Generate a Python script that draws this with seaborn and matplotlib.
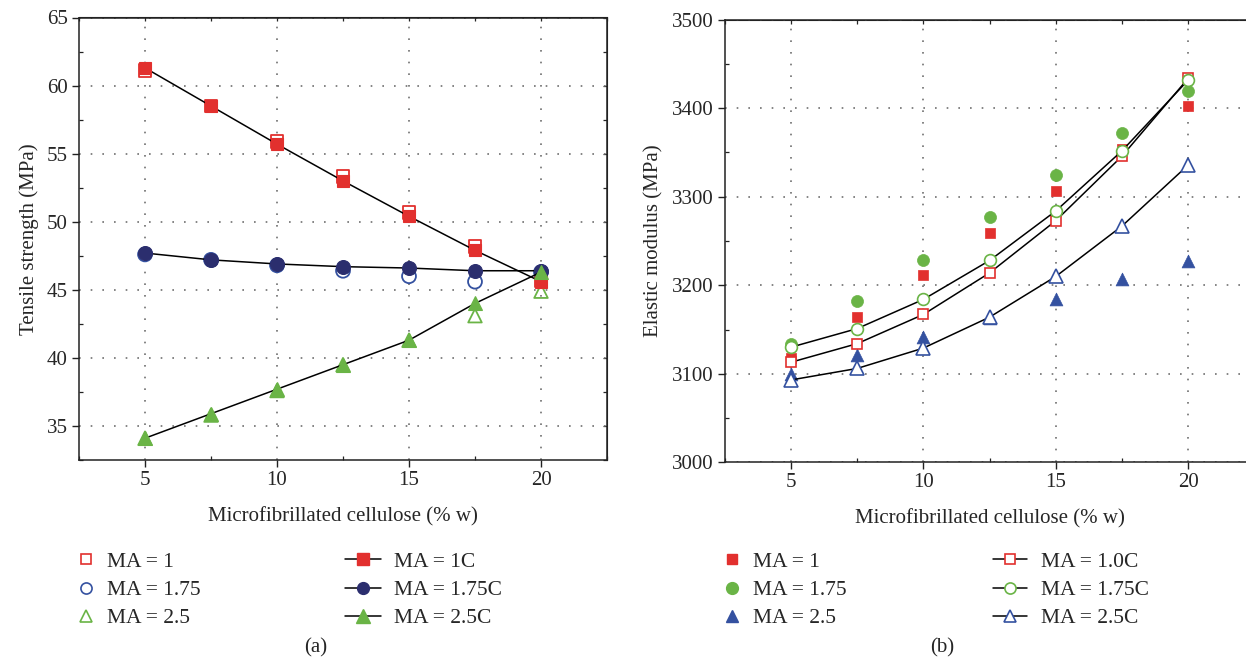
import matplotlib
matplotlib.use('Agg')
import numpy as np
import pandas as pd
import matplotlib.pyplot as plt
from matplotlib.lines import Line2D
from matplotlib.ticker import MultipleLocator
import seaborn as sns

sns.set_style('ticks')
plt.rcParams['font.family'] = ['Liberation Serif', 'DejaVu Serif']
plt.rcParams['font.size'] = 15

# Microfibrillated cellulose content (% w)
mfc = [5, 7.5, 10, 12.5, 15, 17.5, 20]

# (a) Tensile strength (MPa)
ts_ma1 = [61.1, 58.5, 55.9, 53.3, 50.7, 48.2, 45.7]
ts_ma1c = [61.3, 58.5, 55.7, 53.0, 50.4, 47.9, 45.6]
ts_ma175 = [47.6, 47.2, 46.8, 46.4, 46.0, 45.6, 46.3]
ts_ma175c = [47.7, 47.2, 46.9, 46.7, 46.6, 46.4, 46.4]
ts_ma25 = [34.1, 35.8, 37.6, 39.5, 41.3, 43.1, 44.9]
ts_ma25c = [34.1, 35.9, 37.7, 39.5, 41.3, 44.0, 46.3]

# (b) Elastic modulus (MPa)
em_ma1 = [3118, 3164, 3212, 3259, 3307, 3354, 3403]
em_ma175 = [3134, 3182, 3229, 3277, 3324, 3372, 3420]
em_ma25 = [3100, 3121, 3142, 3163, 3185, 3207, 3227]
em_ma1c = [3113, 3134, 3167, 3214, 3273, 3346, 3434]
em_ma175c = [3130, 3151, 3184, 3228, 3284, 3352, 3432]
em_ma25c = [3093, 3106, 3129, 3164, 3210, 3267, 3336]

red = '#e2302e'
green = '#6ab446'
navy = '#2b2e6e'
blue = '#3451a0'

W, H = 1246, 660
fig = plt.figure(figsize=(W / 100, H / 100), dpi=100)

ax1 = fig.add_axes([79 / W, 1 - 460 / H, 528 / W, 442.5 / H])
ax2 = fig.add_axes([724.6 / W, 1 - 462.3 / H, 530 / W, 442.6 / H])


def style_axes(ax, xlim, ylim, ymaj, ymin):
    ax.set_xlim(*xlim)
    ax.set_ylim(*ylim)
    ax.xaxis.set_major_locator(MultipleLocator(5))
    ax.xaxis.set_minor_locator(MultipleLocator(2.5))
    ax.yaxis.set_major_locator(MultipleLocator(ymaj))
    ax.yaxis.set_minor_locator(MultipleLocator(ymin))
    ax.grid(True, which='major', linestyle=(0, (1, 6)), color='#707070', lw=1.2)
    for s in ax.spines.values():
        s.set_visible(True)
        s.set_linewidth(1.1)
        s.set_color('#222222')
    ax.tick_params(which='major', direction='out', length=5, width=1.0, color='#222222',
                   labelsize=15, pad=3)
    ax.tick_params(which='minor', direction='in', length=3, width=0.9, color='#222222')
    # inward ticks on top and right
    top = ax.secondary_xaxis('top')
    top.xaxis.set_major_locator(MultipleLocator(5))
    top.xaxis.set_minor_locator(MultipleLocator(2.5))
    top.tick_params(which='both', direction='in', length=3, width=0.9, labeltop=False)
    right = ax.secondary_yaxis('right')
    right.yaxis.set_major_locator(MultipleLocator(ymaj))
    right.yaxis.set_minor_locator(MultipleLocator(ymin))
    right.tick_params(which='both', direction='in', length=3, width=0.9, labelright=False)
    ax.set_xlabel('Microfibrillated cellulose (% w)', fontsize=15, labelpad=12)


# ---------- (a) ----------
style_axes(ax1, (2.5, 22.5), (32.5, 65), 5, 2.5)
for vals, mk, col, sz in [(ts_ma1, 's', red, 85), (ts_ma175, 'o', blue, 100),
                          (ts_ma25, '^', green, 95)]:
    sns.scatterplot(x=mfc, y=vals, ax=ax1, marker=mk, s=sz, color=col,
                    facecolor='none', edgecolor=col, linewidth=1.3, zorder=3)
for vals, mk, col, ms in [(ts_ma1c, 's', red, 9), (ts_ma175c, 'o', navy, 10),
                          (ts_ma25c, '^', green, 10.5)]:
    sns.lineplot(x=mfc, y=vals, ax=ax1, color='black', lw=1.1, marker=mk, markersize=ms,
                 markerfacecolor=col, markeredgecolor=col, markeredgewidth=0.8, zorder=4)
ax1.set_ylabel('Tensile strength (MPa)', fontsize=15, labelpad=6)

# ---------- (b) ----------
style_axes(ax2, (2.5, 22.5), (3000, 3500), 100, 50)
for vals, mk, col, sz in [(em_ma1, 's', red, 60), (em_ma175, 'o', green, 75),
                          (em_ma25, '^', blue, 85)]:
    sns.scatterplot(x=mfc, y=vals, ax=ax2, marker=mk, s=sz, color=col,
                    edgecolor=col, linewidth=0.5, zorder=3)
for vals, mk, col, ms in [(em_ma1c, 's', red, 7.5), (em_ma175c, 'o', green, 8.5),
                          (em_ma25c, '^', blue, 9.5)]:
    sns.lineplot(x=mfc, y=vals, ax=ax2, color='black', lw=1.1, marker=mk, markersize=ms,
                 markerfacecolor='white', markeredgecolor=col, markeredgewidth=1.2, zorder=4)
ax2.set_ylabel('Elastic modulus (MPa)', fontsize=15, labelpad=6)

# ---------- legends ----------
leg_kw = dict(frameon=False, fontsize=15.5, borderpad=0, labelspacing=0.38,
              loc='center left')

h_a1 = [Line2D([], [], ls='', marker='s', ms=7, mfc='none', mec=red, mew=1.2),
        Line2D([], [], ls='', marker='o', ms=8, mfc='none', mec=blue, mew=1.2),
        Line2D([], [], ls='', marker='^', ms=8.5, mfc='none', mec=green, mew=1.2)]
fig.legend(h_a1, ['MA = 1', 'MA = 1.75', 'MA = 2.5'], bbox_to_anchor=(66 / W, 1 - 590 / H),
           handlelength=0.9, handletextpad=0.5, **leg_kw)
h_a2 = [Line2D([], [], color='black', lw=1.1, marker='s', ms=8, mfc=red, mec=red),
        Line2D([], [], color='black', lw=1.1, marker='o', ms=8.5, mfc=navy, mec=navy),
        Line2D([], [], color='black', lw=1.1, marker='^', ms=9.5, mfc=green, mec=green)]
fig.legend(h_a2, ['MA = 1C', 'MA = 1.75C', 'MA = 2.5C'], bbox_to_anchor=(334 / W, 1 - 590 / H),
           handlelength=1.7, handletextpad=0.6, **leg_kw)

h_b1 = [Line2D([], [], ls='', marker='s', ms=7.5, mfc=red, mec=red),
        Line2D([], [], ls='', marker='o', ms=8.5, mfc=green, mec=green),
        Line2D([], [], ls='', marker='^', ms=9, mfc=blue, mec=blue)]
fig.legend(h_b1, ['MA = 1', 'MA = 1.75', 'MA = 2.5'], bbox_to_anchor=(712 / W, 1 - 590 / H),
           handlelength=0.9, handletextpad=0.5, **leg_kw)
h_b2 = [Line2D([], [], color='black', lw=1.1, marker='s', ms=7, mfc='white', mec=red, mew=1.2),
        Line2D([], [], color='black', lw=1.1, marker='o', ms=8, mfc='white', mec=green, mew=1.2),
        Line2D([], [], color='black', lw=1.1, marker='^', ms=8.5, mfc='white', mec=blue, mew=1.2)]
fig.legend(h_b2, ['MA = 1.0C', 'MA = 1.75C', 'MA = 2.5C'], bbox_to_anchor=(982 / W, 1 - 590 / H),
           handlelength=1.6, handletextpad=0.65, **leg_kw)

fig.text(316 / W, 1 - 648 / H, '(a)', ha='center', va='center', fontsize=15)
fig.text(942 / W, 1 - 648 / H, '(b)', ha='center', va='center', fontsize=15)

fig.savefig('out.png', dpi=100)
